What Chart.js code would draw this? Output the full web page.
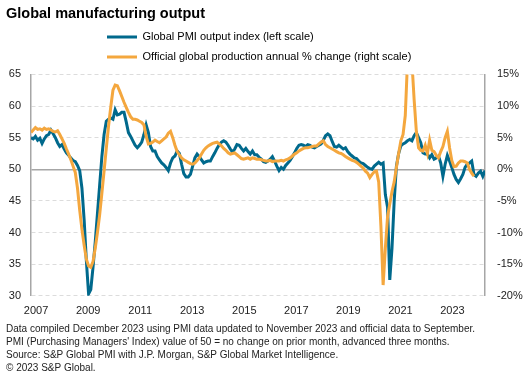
<!DOCTYPE html>
<html><head><meta charset="utf-8">
<script src="https://cdn.jsdelivr.net/npm/chart.js@4.4.0/dist/chart.umd.min.js"></script>
<style>html,body{margin:0;padding:0;background:#fff;}#wrap{width:529px;height:382px;position:relative;}</style>
</head><body><div id="wrap"><canvas id="c"></canvas></div>
<script>
// First plotted month: October 2006 (month index -3, Jan 2007 = 0)
const firstMonthIndex = -3;

// Global PMI output index (left scale), Oct 2006 .. Nov 2023
const pmiOutput = [
  55.0, 54.8, 55.2,
  54.6, 54.9, 54.1, 54.8, 55.3, 55.5, 56.2, 55.6, 55.0, 54.2, 53.6, 53.9,
  53.2, 52.6, 52.2, 51.8, 51.4, 51.2, 50.6, 49.8, 47.0, 42.0, 35.5, 30.3,
  31.0, 34.5, 38.5, 43.0, 47.5, 52.0, 55.5, 57.6, 57.9, 58.1, 57.9, 59.4,
  58.6, 58.7, 59.0, 59.0, 57.5, 55.8, 55.2, 54.5, 53.8, 53.4, 53.8, 54.3,
  55.5, 57.0, 55.8, 53.6, 52.9, 52.9, 52.0, 51.5, 51.0, 50.7, 50.3, 49.8,
  51.0, 51.8, 52.1, 52.9, 52.5, 50.8, 49.3, 48.8, 48.8, 49.2, 50.5, 51.8,
  52.4, 52.0, 51.5, 51.0, 51.2, 51.3, 51.3, 52.0, 52.6, 53.3, 53.9, 54.3,
  54.5, 54.3, 53.8, 53.2, 52.7, 53.2, 53.9, 53.8, 53.3, 52.9, 53.3, 52.8,
  52.4, 52.9, 52.3, 52.3, 51.9, 51.6, 51.2, 51.1, 51.3, 51.6, 52.0, 51.3,
  50.5, 49.8, 50.3, 50.0, 50.6, 51.0, 51.4, 52.0, 52.6, 53.3, 53.8, 53.9,
  53.8, 53.6, 53.9, 53.8, 53.5, 53.4, 53.6, 53.8, 54.0, 54.6, 55.3, 55.6,
  55.3, 54.4, 53.6, 53.5, 53.8, 53.5, 53.2, 53.4, 52.8, 52.4, 52.1, 51.8,
  51.7, 51.3, 51.0, 50.9, 50.6, 50.3, 50.1, 50.0, 50.5, 50.8, 51.1, 50.8,
  51.0, 46.0, 44.0, 32.5, 37.5, 45.0, 50.5, 52.5, 53.7, 54.0, 54.2, 54.5,
  54.7, 54.5, 55.3, 55.8, 55.0, 54.2, 52.6, 52.4, 52.4, 51.8, 52.3, 51.6,
  51.8, 52.1, 51.0, 48.9, 50.8, 52.2, 51.3, 50.3, 49.2, 48.4, 47.9, 48.5,
  49.2, 50.3, 50.8, 51.0, 51.3, 49.2, 48.9, 49.4, 49.7, 48.9, 49.8
];

// Official global production, annual % change (right scale), advanced three months
const officialProduction = [
  5.8, 6.2, 6.6,
  6.3, 6.4, 6.2, 6.5, 6.3, 6.4, 6.2, 6.0, 5.9, 6.1, 5.5, 4.8,
  4.1, 3.2, 2.4, 1.5, 0.5, -0.5, -3.0, -6.5, -9.5, -12.0, -14.2, -15.3,
  -15.5, -14.6, -12.5, -10.0, -7.2, -3.8, -0.3, 3.3, 6.8, 9.8, 12.5, 13.3,
  13.2, 12.4, 11.5, 10.6, 9.8, 9.0, 8.3, 7.9, 7.9, 7.8, 7.6, 7.4,
  7.0, 5.2, 4.0, 4.1, 4.3, 4.6, 4.4, 4.2, 4.5, 4.8, 5.1, 5.7,
  6.0, 5.0, 3.8, 2.8, 2.3, 1.8, 1.5, 1.3, 1.1, 0.9, 0.8, 1.0,
  1.4, 1.8, 2.4, 3.0, 3.4, 3.7, 3.9, 4.1, 4.2, 4.3, 4.0, 3.7,
  3.3, 3.0, 2.6, 2.4, 2.5, 2.6, 2.3, 2.0, 1.7, 1.6, 1.7, 1.8,
  1.6, 1.8, 1.7, 1.6, 1.6, 1.5, 1.4, 1.3, 1.3, 1.4, 1.2, 1.3,
  1.3, 1.3, 1.4, 1.3, 1.5, 1.6, 1.8, 2.1, 2.4, 2.6, 2.9, 3.1,
  3.3, 3.4, 3.4, 3.5, 3.6, 3.7, 3.7, 4.0, 4.3, 4.5, 3.9, 3.6,
  3.4, 3.2, 3.0, 2.8, 2.6, 2.5, 2.3, 2.0, 1.8, 1.6, 1.4, 1.3,
  1.1, 0.8, 0.5, 0.2, -0.3, -0.6, -1.3, -0.8, -0.4, -0.3, -2.0, -9.0,
  -18.3, -12.5, -7.5, -5.5, -3.5, -2.0, 0.3, 2.5, 4.5, 5.5, 8.5, 17.0,
  24.0, 17.0, 11.0, 6.0, 3.4, 3.0, 2.9, 3.8, 2.5, 4.6, 3.0, 2.8,
  2.2, 1.8, 2.8, 3.6, 5.0, 6.0, 3.4, 1.4, 0.4, 0.5, 1.0, 1.3,
  1.3, 1.2, 1.0, 0.0, -0.6, -1.1
];

const xTickLabels = ['2007','2009','2011','2013','2015','2017','2019','2021','2023'];
const seriesNames = ['Global PMI output index (left scale)', 'Official global production annual % change (right scale)'];
const titleText = 'Global manufacturing output';
const footnotes = [
  'Data compiled December 2023 using PMI data updated to November 2023 and official data to September.',
  "PMI (Purchasing Managers' Index) value of 50 = no change on prior month, advanced three months.",
  'Source: S&P Global PMI with J.P. Morgan, S&P Global Market Intelligence.',
  '\u00A9 2023 S&P Global.'
];

const BLUE = '#00698c', ORANGE = '#f4a73e';
const FONT = 'Arial, "Liberation Sans", sans-serif';

const toPoints = arr => arr.map((v, k) => ({x: firstMonthIndex + k, y: v}));

const legendShift = {
  id: 'legendShift',
  beforeLayout(chart) {
    const l = chart.legend;
    if (l && !l._fitPatched) {
      const f = l.fit.bind(l);
      l.fit = function () { f(); this.height += 2; };
      l._fitPatched = true;
    }
  },
  afterLayout(chart) { const l = chart.legend; if (l) { l.left += 92; l.right += 92; } }
};

new Chart(document.getElementById('c'), {
  type: 'line',
  data: {
    datasets: [
      {label: seriesNames[0], data: toPoints(pmiOutput), yAxisID: 'y', borderColor: BLUE, backgroundColor: BLUE, borderWidth: 3, pointRadius: 0, order: 1},
      {label: seriesNames[1], data: toPoints(officialProduction), yAxisID: 'y2', borderColor: ORANGE, backgroundColor: ORANGE, borderWidth: 3, pointRadius: 0, order: 0}
    ]
  },
  options: {
    responsive: true, maintainAspectRatio: false, animation: false,
    layout: {padding: {left: 6, right: 0, top: 1, bottom: 0}},
    plugins: {
      title: {display: true, text: titleText, align: 'start', color: '#000', font: {family: FONT, size: 14.5, weight: 'bold', lineHeight: 1.2}, padding: {top: 4, bottom: 0}},
      legend: {display: true, position: 'top', align: 'start',
        labels: {font: {family: FONT, size: 11}, color: '#222', boxWidth: 30, boxHeight: 3, padding: 9,
          sort: (a, b) => a.datasetIndex - b.datasetIndex,
          generateLabels: chart => chart.data.datasets.map((ds, i) => ({text: ds.label, fillStyle: ds.borderColor, strokeStyle: ds.borderColor, lineWidth: 0, datasetIndex: i, hidden: false}))
        }},
      subtitle: {display: true, position: 'bottom', align: 'start', text: footnotes, color: '#222', font: {family: FONT, size: 10, lineHeight: '13px'}, padding: {top: 5, bottom: 7}},
      tooltip: {enabled: false}
    },
    scales: {
      x: {type: 'linear', min: -3, max: 202,
        grid: {display: false, drawTicks: false}, border: {display: false},
        afterBuildTicks: s => { s.ticks = xTickLabels.map((l, k) => ({value: k * 23.5 - 0.7})); },
        ticks: {autoSkip: false, maxRotation: 0, padding: 9, color: '#222', font: {family: FONT, size: 11}, callback: (v, i) => xTickLabels[i]},
        afterFit: s => { s.height = 22.2; }
      },
      y: {position: 'left', min: 30, max: 65,
        ticks: {stepSize: 5, padding: 10, color: '#222', font: {family: FONT, size: 11}},
        grid: {drawTicks: false, color: c => (c.tick && c.tick.value === 50) ? '#a6a6a6' : '#dcdcdc', lineWidth: c => (c.tick && c.tick.value === 50) ? 1.5 : 1},
        border: {display: true, color: '#a6a6a6', width: 1.5, dash: c => (c.tick && c.tick.value !== 50) ? [4, 3] : []},
        afterFit: s => { s.width = 25; }
      },
      y2: {position: 'right', min: -20, max: 15,
        ticks: {stepSize: 5, padding: 12, color: '#222', font: {family: FONT, size: 11}, callback: v => v + '%'},
        grid: {display: false, drawTicks: false},
        border: {display: true, color: '#a6a6a6', width: 1.5},
        afterFit: s => { s.width = 44; }
      }
    }
  },
  plugins: [legendShift]
});
</script></body></html>
